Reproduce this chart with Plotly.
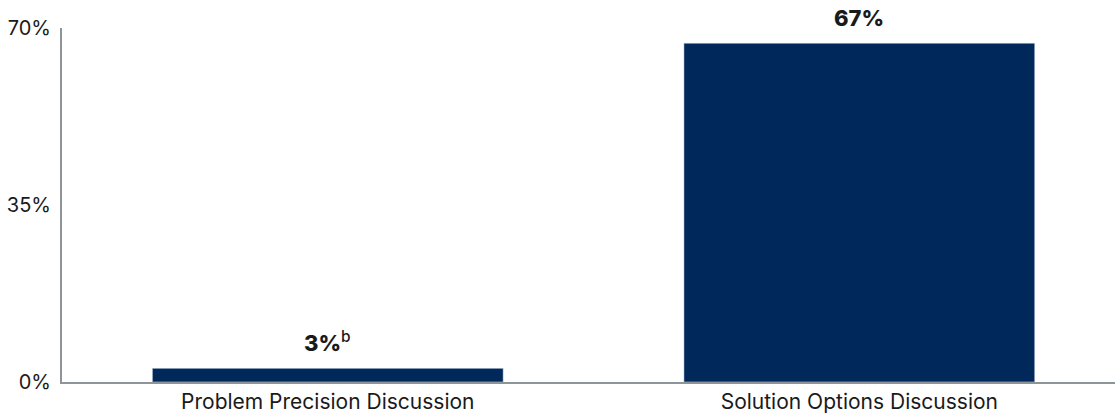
import plotly.graph_objects as go

categories = ["Problem Precision Discussion", "Solution Options Discussion"]
values = [2.7, 67]
labels = ["3%<sup><span style='font-weight:500'>b</span></sup>", "67%"]
tick_vals = [0, 35, 70]
tick_text = ["0%", "35%", "70%"]

BAR = "#00285A"
AXIS = "#8E9599"
TXT = "#1A1A1A"
FONT = "Inter"

fig = go.Figure()
fig.add_trace(go.Bar(
    x=categories, y=values, marker_color=BAR, width=0.66,
    hoverinfo="skip",
))

for c, v, t in zip(categories, values, labels):
    fig.add_annotation(
        x=c, y=v, text=t, showarrow=False, yanchor="bottom", yshift=10,
        font=dict(family=FONT, size=22, color=TXT, weight=800),
    )

fig.update_layout(
    width=1115, height=414,
    margin=dict(l=62, r=0, t=28, b=32),
    paper_bgcolor="white", plot_bgcolor="white",
    showlegend=False,
    font=dict(family=FONT, size=21, color=TXT),
)
fig.update_xaxes(
    range=[-0.5, 1.481], showline=True, linecolor=AXIS, linewidth=2,
    showgrid=False, ticks="", ticklabelstandoff=0,
    tickfont=dict(family=FONT, size=21, color=TXT),
)
fig.update_yaxes(
    range=[0, 70], tickvals=tick_vals, ticktext=tick_text,
    showline=True, linecolor=AXIS, linewidth=2, showgrid=False,
    zeroline=False, ticks="", ticklabelstandoff=5,
    tickfont=dict(family=FONT, size=20, color=TXT),
)

fig.write_html("out.html")
